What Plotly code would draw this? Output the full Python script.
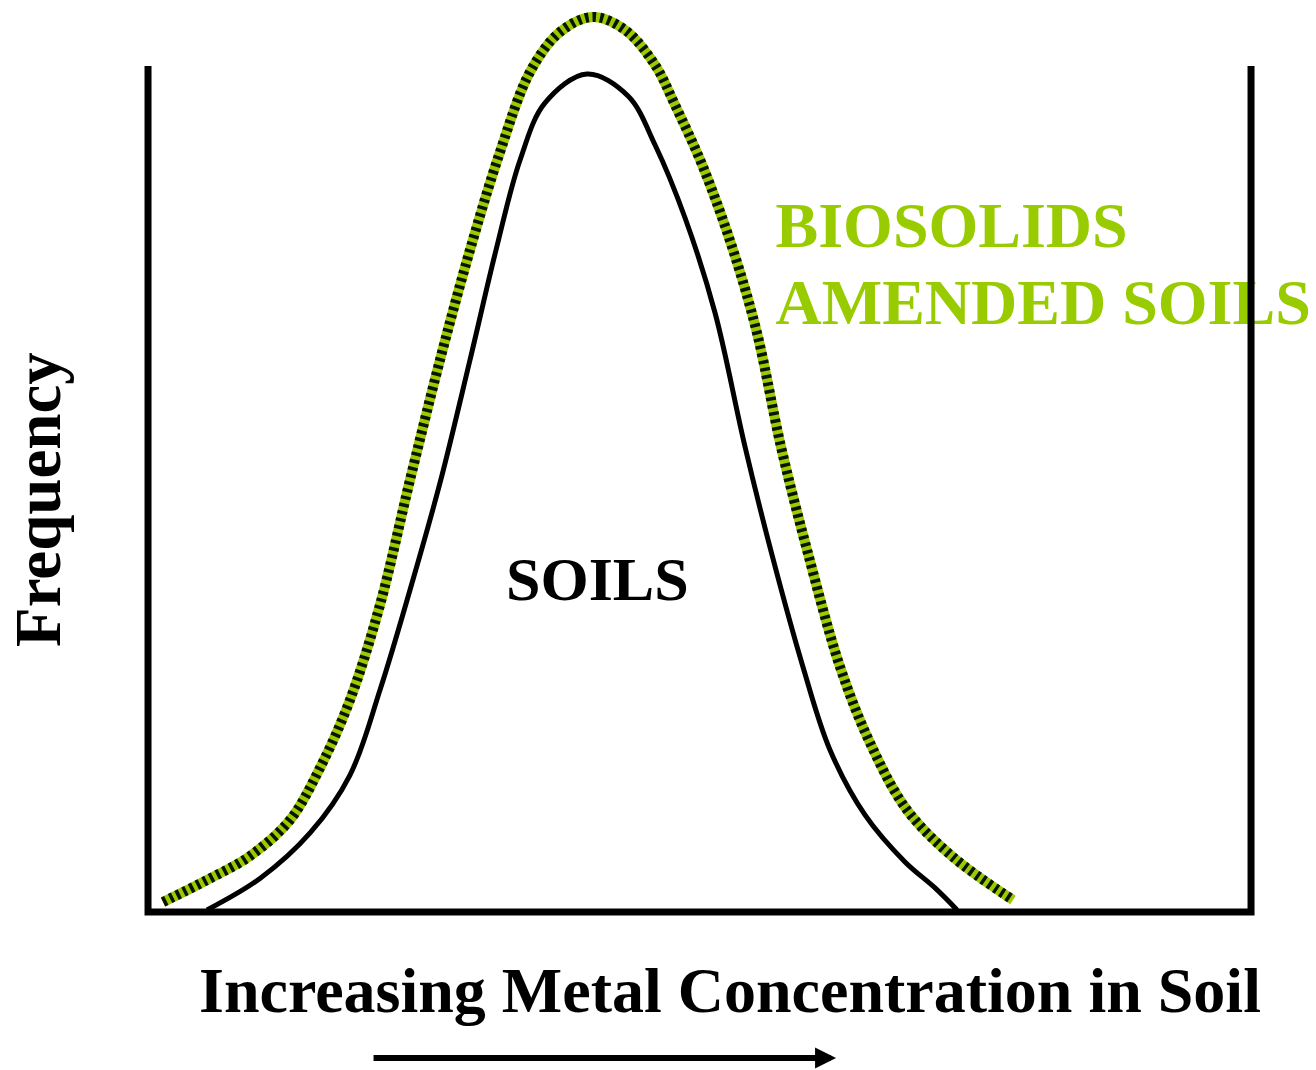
import plotly.graph_objects as go

# Frequency distributions of metal concentration (relative units, frame = 0..100)
soil_x = [5.35, 10.15, 14.69, 18.31, 21.03, 23.75, 26.47, 29.19, 31.55, 33.73, 35.99,
          39.80, 43.52, 45.97, 48.69, 51.41, 54.13, 56.57, 59.38, 61.83, 65.00, 68.63,
          71.35, 73.35]
soil_y = [0.24, 3.96, 9.34, 16.19, 26.24, 38.06, 50.71, 65.25, 78.25, 88.89, 95.63,
          99.05, 96.45, 90.66, 82.03, 70.80, 54.96, 42.20, 28.96, 19.15, 11.47, 5.91,
          2.84, 0.24]

amended_x = [1.36, 5.35, 9.25, 12.87, 15.59, 18.31, 21.03, 23.75, 26.47, 29.19, 31.91,
             34.63, 37.35, 40.34, 43.25, 45.97, 47.78, 50.32, 53.04, 55.21, 57.39,
             59.75, 62.74, 65.46, 68.81, 72.98, 78.42]
amended_y = [1.18, 3.78, 6.62, 10.87, 17.02, 25.06, 36.29, 51.06, 65.25, 78.25, 89.83,
             99.29, 104.02, 105.79, 104.26, 100.12, 95.39, 88.06, 78.25, 68.44, 54.96,
             42.79, 28.96, 19.98, 12.06, 6.50, 1.42]

frame_x = [0, 0, 100, 100]
frame_y = [100, 0, 0, 100]

GREEN = "#99CC00"
SERIF = "Liberation Serif, Times New Roman, serif"

fig = go.Figure()

# amended soils: green band with dark stripes
fig.add_trace(go.Scatter(x=amended_x, y=amended_y, mode="lines",
                         line=dict(color=GREEN, width=10, shape="spline", smoothing=1.0),
                         hoverinfo="skip"))
fig.add_trace(go.Scatter(x=amended_x, y=amended_y, mode="lines",
                         line=dict(color="#0d1200", width=10, shape="spline", smoothing=1.0,
                                   dash="3.5px,4px"),
                         hoverinfo="skip"))

# background soils
fig.add_trace(go.Scatter(x=soil_x, y=soil_y, mode="lines",
                         line=dict(color="black", width=5, shape="spline", smoothing=1.0),
                         hoverinfo="skip"))

# label for the amended curve
fig.add_trace(go.Scatter(x=[56.89, 56.89], y=[80.5, 71.4], mode="text",
                         text=["BIOSOLIDS", "AMENDED SOILS"],
                         textposition="middle right",
                         textfont=dict(family=SERIF, size=64, color=GREEN, weight="bold"),
                         hoverinfo="skip"))

# frame
fig.add_trace(go.Scatter(x=frame_x, y=frame_y, mode="lines",
                         line=dict(color="black", width=7),
                         hoverinfo="skip"))

fig.add_annotation(x=40.71, y=39.36, text="<b>SOILS</b>", showarrow=False,
                   xanchor="center", yanchor="middle",
                   font=dict(family=SERIF, size=62, color="black"))

fig.add_annotation(x=52.77, y=-9.34, text="<b>Increasing Metal Concentration in Soil</b>",
                   showarrow=False, xanchor="center", yanchor="middle",
                   font=dict(family=SERIF, size=64, color="black"))

fig.add_annotation(x=-9.97, y=48.7, text="<b>Frequency</b>", showarrow=False,
                   textangle=-90, xanchor="center", yanchor="middle",
                   font=dict(family=SERIF, size=65, color="black"))

# direction arrow
fig.add_annotation(x=62.38, y=-17.26, ax=20.31, ay=-17.26, axref="x", ayref="y",
                   xref="x", yref="y", text="", showarrow=True,
                   arrowhead=2, arrowsize=0.7, arrowwidth=6, arrowcolor="black",
                   standoff=0, startstandoff=0)

fig.update_layout(
    width=1316, height=1070,
    margin=dict(l=0, r=0, t=0, b=0),
    paper_bgcolor="white", plot_bgcolor="white",
    showlegend=False,
    xaxis=dict(range=[-13.42, 105.89], visible=False, fixedrange=True),
    yaxis=dict(range=[-18.68, 107.80], visible=False, fixedrange=True),
)

fig.write_html("out.html")
